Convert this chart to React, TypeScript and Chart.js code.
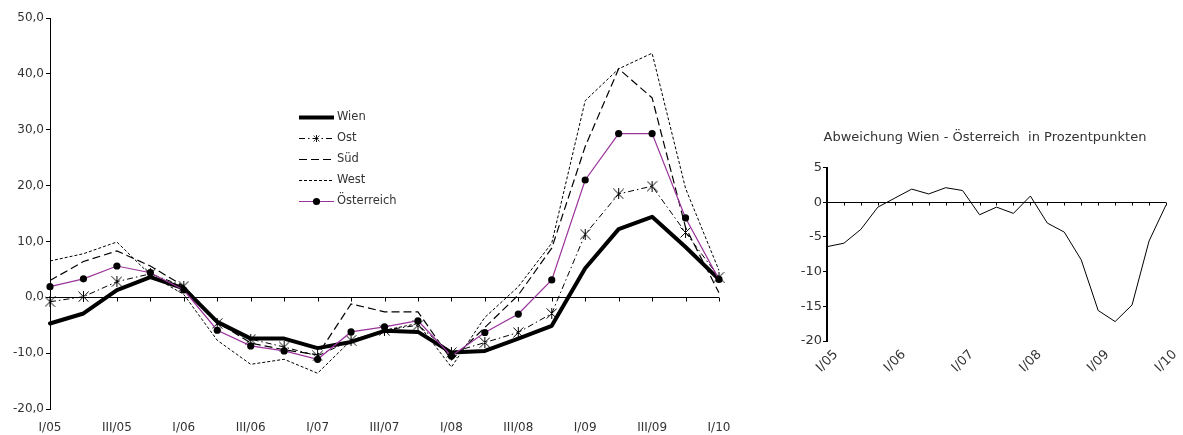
import React, { useEffect, useRef } from 'react';
import { Chart, registerables } from 'chart.js';

Chart.register(...registerables);

const categories = [
  'I/05', 'II/05', 'III/05', 'IV/05',
  'I/06', 'II/06', 'III/06', 'IV/06',
  'I/07', 'II/07', 'III/07', 'IV/07',
  'I/08', 'II/08', 'III/08', 'IV/08',
  'I/09', 'II/09', 'III/09', 'IV/09',
  'I/10',
];

const wien = [-4.7, -2.9, 1.3, 3.6, 1.6, -4.4, -7.4, -7.4, -9.1, -8.0, -6.0, -6.2, -9.9, -9.6, -7.4, -5.1, 5.2, 12.2, 14.4, 9.0, 3.2];
const ost = [-0.8, 0.1, 2.8, 4.2, 2.0, -4.7, -7.5, -8.9, -10.5, -7.7, -5.9, -5.0, -9.9, -8.1, -6.3, -2.9, 11.3, 18.5, 19.9, 11.6, 3.6];
const sued = [3.0, 6.4, 8.3, 5.6, 2.0, -4.4, -8.2, -9.4, -10.3, -1.2, -2.6, -2.6, -11.2, -5.4, 0.4, 8.8, 27.0, 40.9, 35.7, 12.5, 0.8];
const west = [6.5, 7.8, 9.9, 4.0, 0.5, -7.7, -12.0, -11.1, -13.6, -7.7, -5.9, -4.7, -12.5, -3.6, 1.9, 9.7, 35.2, 40.9, 43.7, 19.5, 4.8];
const oesterreich = [1.9, 3.3, 5.6, 4.4, 1.3, -5.9, -8.7, -9.6, -11.1, -6.2, -5.3, -4.2, -10.5, -6.3, -3.0, 3.1, 21.0, 29.3, 29.3, 14.2, 3.2];

const abweichung = [-6.4, -5.9, -3.9, -0.7, 0.6, 1.9, 1.2, 2.1, 1.7, -1.8, -0.7, -1.6, 0.9, -3.0, -4.3, -8.3, -15.6, -17.2, -14.8, -5.6, -0.4];

const seriesLabels = ['Wien', 'Ost', 'Süd', 'West', 'Österreich'];
const abweichungTitle = 'Abweichung Wien - Österreich  in Prozentpunkten';

const FONT = 'DejaVu Sans';
const TEXT = '#333333';
const PURPLE = '#993399';

function makeStarMarker(size: number) {
  const c = document.createElement('canvas');
  c.width = size;
  c.height = size;
  const ctx = c.getContext('2d')!;
  ctx.strokeStyle = '#000';
  ctx.lineWidth = 1;
  const m = size / 2;
  const r = size / 2 - 0.5;
  ctx.beginPath();
  ctx.moveTo(m - r, m - r);
  ctx.lineTo(m + r, m + r);
  ctx.moveTo(m - r, m + r);
  ctx.lineTo(m + r, m - r);
  ctx.moveTo(m, 0);
  ctx.lineTo(m, size);
  ctx.stroke();
  return c;
}

const zeroAxisPlugin = {
  id: 'zeroAxis',
  beforeDatasetsDraw(chart: any, _args: any, opts: any) {
    const { ctx, chartArea, scales } = chart;
    const xs = scales.x;
    const ys = scales.y;
    const py = Math.round(ys.getPixelForValue(0)) + 0.5;
    ctx.save();
    ctx.strokeStyle = '#000';
    ctx.lineWidth = 1;
    ctx.setLineDash([]);
    ctx.beginPath();
    ctx.moveTo(chartArea.left, py);
    ctx.lineTo(chartArea.right, py);
    for (let i = 0; i < xs.ticks.length; i++) {
      const px = Math.round(xs.getPixelForTick(i)) + 0.5;
      ctx.moveTo(px, py);
      ctx.lineTo(px, py + (opts.tick || 4));
    }
    ctx.stroke();
    ctx.restore();
  },
};

const lineLegendPlugin = {
  id: 'lineLegend',
  afterDatasetsDraw(chart: any, _args: any, opts: any) {
    const { ctx } = chart;
    chart.data.datasets.forEach((ds: any, i: number) => {
      const y = opts.top + i * opts.row + 0.5;
      const x0 = opts.left;
      const x1 = opts.left + opts.sample;
      ctx.save();
      ctx.strokeStyle = ds.borderColor;
      ctx.lineWidth = ds.borderWidth;
      ctx.setLineDash(ds.borderDash || []);
      ctx.beginPath();
      ctx.moveTo(x0, y);
      ctx.lineTo(x1, y);
      ctx.stroke();
      ctx.setLineDash([]);
      const cx = (x0 + x1) / 2;
      if (ds.pointStyle && typeof ds.pointStyle !== 'string') {
        const s = 7;
        ctx.drawImage(ds.pointStyle, cx - s / 2, y - s / 2, s, s);
      } else if (ds.pointRadius > 0) {
        ctx.fillStyle = ds.pointBackgroundColor;
        ctx.beginPath();
        ctx.arc(cx, y, ds.pointRadius, 0, Math.PI * 2);
        ctx.fill();
      }
      ctx.fillStyle = TEXT;
      ctx.font = `11.5px "${FONT}"`;
      ctx.textBaseline = 'middle';
      ctx.textAlign = 'left';
      ctx.fillText(ds.label, x1 + 3, y);
      ctx.restore();
    });
  },
};

function MainChart() {
  const ref = useRef<HTMLCanvasElement>(null);
  useEffect(() => {
    const star = makeStarMarker(11);
    const chart = new Chart(ref.current!, {
      type: 'line',
      data: {
        labels: categories,
        datasets: [
          {
            label: seriesLabels[0], data: wien, borderColor: '#000', backgroundColor: '#000',
            borderWidth: 4, pointRadius: 0, order: 5, borderJoinStyle: 'round', borderCapStyle: 'round',
          },
          {
            label: seriesLabels[1], data: ost, borderColor: '#000', backgroundColor: '#000',
            borderWidth: 1, borderDash: [6, 3, 1.5, 3], pointStyle: star as any, pointRadius: 5, order: 4,
          },
          {
            label: seriesLabels[2], data: sued, borderColor: '#000', backgroundColor: '#000',
            borderWidth: 1.2, borderDash: [8, 4], pointRadius: 0, order: 3,
          },
          {
            label: seriesLabels[3], data: west, borderColor: '#000', backgroundColor: '#000',
            borderWidth: 1, borderDash: [3, 2], pointRadius: 0, order: 2,
          },
          {
            label: seriesLabels[4], data: oesterreich, borderColor: PURPLE, backgroundColor: '#000',
            borderWidth: 1.2, pointStyle: 'circle', pointRadius: 3.6, pointBackgroundColor: '#000',
            pointBorderColor: '#000', pointBorderWidth: 0, order: 1,
          },
        ] as any,
      },
      options: {
        animation: false,
        responsive: false,
        events: [],
        layout: { padding: { top: 18, right: 41, left: 0, bottom: 0 } },
        elements: { line: { tension: 0 } },
        plugins: {
          legend: { display: false },
          tooltip: { enabled: false },
          zeroAxis: { tick: 4 },
          lineLegend: { left: 299, top: 117, row: 21, sample: 35 },
        } as any,
        scales: {
          x: {
            type: 'category',
            offset: false,
            grid: { display: false, drawTicks: false },
            border: { display: false },
            ticks: {
              autoSkip: false, maxRotation: 0, minRotation: 0, padding: 12,
              color: TEXT, font: { family: FONT, size: 12 },
              callback: (_v: any, i: number) => (i % 2 === 0 ? categories[i] : ''),
            },
            afterFit: (s: any) => { s.height = 26; },
          },
          y: {
            min: -20, max: 50,
            grid: { drawOnChartArea: false, drawTicks: true, tickLength: 4, color: '#000' },
            border: { display: true, color: '#000', width: 1 },
            ticks: {
              stepSize: 10, padding: 2, color: TEXT, font: { family: FONT, size: 12 },
              callback: (v: any) => Number(v).toFixed(1).replace('.', ','),
            },
            afterFit: (s: any) => { s.width = 50; },
          },
        },
      } as any,
      plugins: [zeroAxisPlugin, lineLegendPlugin],
    });
    return () => chart.destroy();
  }, []);
  return <canvas ref={ref} width={760} height={435} style={{ display: 'block' }} />;
}

function DeviationChart() {
  const ref = useRef<HTMLCanvasElement>(null);
  useEffect(() => {
    const chart = new Chart(ref.current!, {
      type: 'line',
      data: {
        labels: categories,
        datasets: [
          {
            label: abweichungTitle, data: abweichung, borderColor: '#000', borderWidth: 1,
            pointRadius: 0, tension: 0,
          },
        ],
      },
      options: {
        animation: false,
        responsive: false,
        events: [],
        layout: { padding: { top: 0, right: 10, left: 0, bottom: 0 } },
        plugins: {
          legend: { display: false },
          tooltip: { enabled: false },
          title: {
            display: true, text: abweichungTitle, color: TEXT,
            font: { family: FONT, size: 13, weight: 'normal' },
            padding: { top: 130, bottom: 22 },
          },
          zeroAxis: { tick: 3 },
        } as any,
        scales: {
          x: {
            type: 'category',
            offset: false,
            grid: { display: false, drawTicks: false },
            border: { display: false },
            ticks: {
              autoSkip: false, maxRotation: 45, minRotation: 45, padding: 6, labelOffset: 9,
              color: TEXT, font: { family: FONT, size: 13 },
              callback: (_v: any, i: number) => (i % 4 === 0 ? categories[i] : ''),
            },
            afterFit: (s: any) => { s.height = 94; },
          },
          y: {
            min: -20, max: 5,
            grid: { drawOnChartArea: false, drawTicks: true, tickLength: 4, color: '#000' },
            border: { display: true, color: '#000', width: 2 },
            ticks: { stepSize: 5, padding: 1, color: TEXT, font: { family: FONT, size: 13 } },
            afterFit: (s: any) => { s.width = 30; },
          },
        },
      } as any,
      plugins: [zeroAxisPlugin],
    });
    return () => chart.destroy();
  }, []);
  return <canvas ref={ref} width={386} height={435} style={{ display: 'block' }} />;
}

export default function App() {
  return (
    <div style={{ position: 'fixed', left: 0, top: 0, width: 1183, height: 435, background: '#fff', overflow: 'hidden' }}>
      <div style={{ position: 'absolute', left: 0, top: 0 }}>
        <MainChart />
      </div>
      <div style={{ position: 'absolute', left: 797, top: 0 }}>
        <DeviationChart />
      </div>
    </div>
  );
}
